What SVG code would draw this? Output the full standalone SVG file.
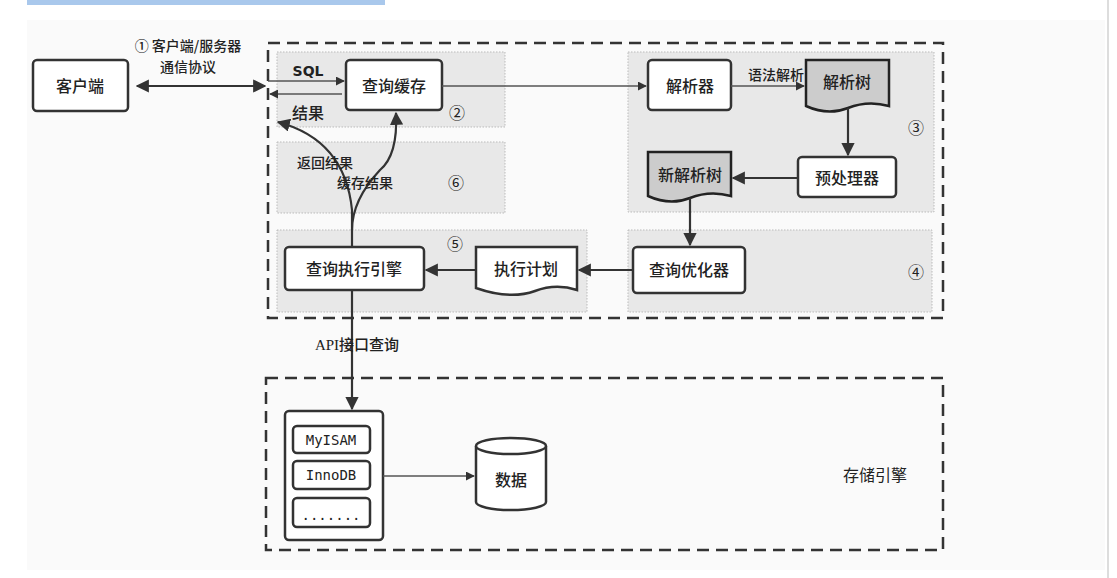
<svg xmlns="http://www.w3.org/2000/svg" width="1117" height="578" viewBox="0 0 1117 578">
<style>
text{font-family:"Noto Sans CJK SC","Liberation Sans",sans-serif;fill:#222;font-size:16px;font-weight:500;text-anchor:middle}
.box{fill:#fff;stroke:#333;stroke-width:2.5}
.doc{fill:#ccc;stroke:#222;stroke-width:2.5}
.zone{fill:#e8e8e8;stroke:#bbb;stroke-dasharray:1.5 1.5}
.dash{fill:none;stroke:#333;stroke-width:2.5;stroke-dasharray:12 7}
.c{fill:none;stroke:#333;stroke-width:2.2}
.t{fill:none;stroke:#555;stroke-width:1.5}
.mono{font-family:"DejaVu Sans Mono","Liberation Mono",monospace;font-size:14px;font-weight:normal}
.n{font-size:16px;font-weight:normal}
</style>
<defs>
<marker id="a" viewBox="0 0 10 10" refX="9" refY="5" markerWidth="6" markerHeight="6" orient="auto-start-reverse"><path d="M0,0L10,5L0,10z" fill="#333"/></marker>
</defs>
<rect x="27" y="0" width="358" height="5" fill="#a9c8ec"/>
<rect x="27" y="20" width="1078" height="550" fill="#fafafa"/>
<line x1="1108" y1="0" x2="1108" y2="578" stroke="#ddd" stroke-width="2"/>
<g id="zones">
<rect class="zone" x="277" y="52" width="228" height="75"/>
<rect class="zone" x="277" y="142" width="228" height="71"/>
<rect class="zone" x="277" y="230" width="310" height="82"/>
<rect class="zone" x="628" y="52" width="306" height="160"/>
<rect class="zone" x="628" y="230" width="304" height="82"/>
<text x="457" y="119" class="n">②</text>
<text x="456" y="189" class="n">⑥</text>
<text x="455" y="250" class="n">⑤</text>
<text x="916" y="134" class="n">③</text>
<text x="916" y="278" class="n">④</text>
</g>
<rect class="dash" x="268" y="43" width="675" height="275"/>
<rect class="dash" x="266" y="378" width="677" height="172"/>
<g id="client"><rect class="box" x="33" y="60" width="95" height="51" rx="4"/><text x="80" y="92">客户端</text></g>
<g id="cache"><rect class="box" x="346" y="60" width="96" height="50" rx="4"/><text x="394" y="92">查询缓存</text></g>
<g id="parser"><rect class="box" x="648" y="60" width="83" height="50" rx="4"/><text x="690" y="92">解析器</text></g>
<g id="tree"><path class="doc" d="M806,60H889V106Q868,100 848,108Q828,116 806,106Z"/><text x="847" y="88">解析树</text></g>
<g id="pre"><rect class="box" x="798" y="157" width="98" height="40" rx="4"/><text x="847" y="184">预处理器</text></g>
<g id="newtree"><path class="doc" d="M648,152H731V196Q710,190 690,198Q670,206 648,196Z"/><text x="690" y="181">新解析树</text></g>
<g id="opt"><rect class="box" x="633" y="247" width="112" height="46" rx="4"/><text x="689" y="276">查询优化器</text></g>
<g id="plan"><path class="box" d="M476,247H577V290Q556,283 535,291Q510,300 476,288Z"/><text x="526" y="275">执行计划</text></g>
<g id="exec"><rect class="box" x="285" y="247" width="139" height="43" rx="4"/><text x="354" y="275">查询执行引擎</text></g>
<g id="engines">
<rect class="box" x="285" y="411" width="98" height="129" rx="4"/>
<rect class="box" x="293" y="426" width="77" height="27" rx="4"/><text class="mono" x="331" y="445">MyISAM</text>
<rect class="box" x="293" y="461" width="77" height="28" rx="4"/><text class="mono" x="331" y="480">InnoDB</text>
<rect class="box" x="293" y="498" width="77" height="29" rx="4"/><text class="mono" x="331" y="520">.......</text>
</g>
<g id="data"><path class="box" d="M476,446V502A35,8 0 0 0 546,502V446"/><ellipse class="box" cx="511" cy="446" rx="35" ry="8"/><text x="511" y="486">数据</text></g>
<text x="875" y="481" style="font-weight:normal">存储引擎</text>
<g id="connectors">
<line class="c" x1="137" y1="86" x2="265" y2="86" marker-start="url(#a)" marker-end="url(#a)"/>
<line class="t" x1="268" y1="81" x2="344" y2="81" marker-end="url(#a)"/>
<line class="t" x1="342" y1="94" x2="270" y2="94" marker-end="url(#a)"/>
<line class="t" x1="442" y1="86" x2="646" y2="86" marker-end="url(#a)"/>
<line class="t" x1="731" y1="86" x2="804" y2="86" marker-end="url(#a)"/>
<line class="c" x1="848" y1="108" x2="848" y2="155" marker-end="url(#a)"/>
<line class="c" x1="798" y1="178" x2="733" y2="178" marker-end="url(#a)"/>
<line class="c" x1="690" y1="198" x2="690" y2="245" marker-end="url(#a)"/>
<line class="c" x1="633" y1="270" x2="579" y2="270" marker-end="url(#a)"/>
<line class="c" x1="476" y1="270" x2="426" y2="270" marker-end="url(#a)"/>
<path class="c" d="M352,247V210Q345,140 278,122" marker-end="url(#a)"/>
<path class="c" d="M352,230Q352,200 380,170Q398,155 396,113" marker-end="url(#a)"/>
<line class="c" x1="352" y1="290" x2="352" y2="409" marker-end="url(#a)"/>
<line class="t" x1="383" y1="476" x2="474" y2="476" marker-end="url(#a)"/>
</g>
<g id="labels">
<text x="188" y="51" style="font-size:14px">① 客户端/服务器</text>
<text x="188" y="72" style="font-size:14px">通信协议</text>
<text x="308" y="76" style="font-family:'DejaVu Sans',sans-serif;font-size:14px;font-weight:bold">SQL</text>
<text x="308" y="119">结果</text>
<text x="325" y="168" style="font-size:14px">返回结果</text>
<text x="365" y="188" style="font-size:14px">缓存结果</text>
<text x="776" y="80" style="font-size:14px">语法解析</text>
<text x="357" y="350" style="font-family:'Liberation Serif','Noto Sans CJK SC',serif;font-size:15px">API接口查询</text>
</g>
</svg>
